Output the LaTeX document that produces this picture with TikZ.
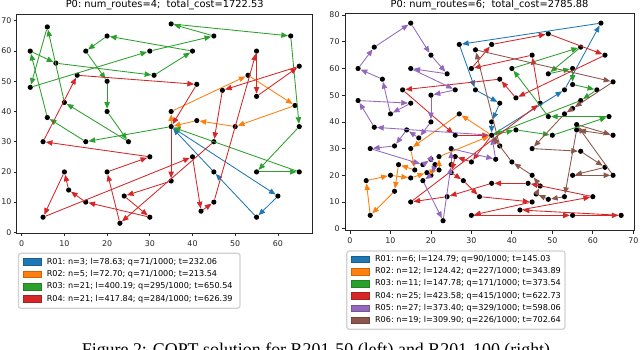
\documentclass[tikz,border=0pt]{standalone}
\usepackage{fontspec}
\setmainfont{DejaVu Sans}
\newfontfamily\capfont{Liberation Serif}
\usetikzlibrary{arrows.meta, positioning}
\definecolor{tabblue}{HTML}{1F77B4}
\definecolor{taborange}{HTML}{FF7F0E}
\definecolor{tabgreen}{HTML}{2CA02C}
\definecolor{tabred}{HTML}{D62728}
\definecolor{tabpurple}{HTML}{9467BD}
\definecolor{tabbrown}{HTML}{8C564B}
% customer coordinates (the first 50 are used on the left)
\newcommand\custlist{1/41/49, 2/35/17, 3/55/45, 4/55/20, 5/15/30, 6/25/30, 7/20/50, 8/10/43,
  9/55/60, 10/30/60, 11/20/65, 12/50/35, 13/30/25, 14/15/10, 15/30/5, 16/10/20, 17/5/30,
  18/20/40, 19/15/60, 20/45/65, 21/45/20, 22/45/10, 23/55/5, 24/65/35, 25/65/20, 26/45/30,
  27/35/40, 28/41/37, 29/64/42, 30/40/60, 31/31/52, 32/35/69, 33/53/52, 34/65/55, 35/63/65,
  36/2/60, 37/20/20, 38/5/5, 39/60/12, 40/40/25, 41/42/7, 42/24/12, 43/23/3, 44/11/14,
  45/6/38, 46/2/48, 47/8/56, 48/13/52, 49/6/68, 50/47/47, 51/49/58, 52/27/43, 53/37/31,
  54/57/29, 55/63/23, 56/53/12, 57/32/12, 58/36/26, 59/21/24, 60/17/34, 61/12/24, 62/24/58,
  63/27/69, 64/15/77, 65/62/77, 66/49/73, 67/67/5, 68/56/39, 69/37/47, 70/37/56, 71/57/68,
  72/47/16, 73/44/17, 74/46/13, 75/49/11, 76/49/42, 77/53/43, 78/61/52, 79/57/48, 80/56/37,
  81/55/54, 82/15/47, 83/14/37, 84/11/31, 85/16/22, 86/4/18, 87/28/18, 88/26/52, 89/26/35,
  90/31/67, 91/15/19, 92/22/22, 93/18/24, 94/26/27, 95/25/24, 96/22/27, 97/25/21, 98/19/21,
  99/20/26, 100/18/18}

\begin{document}
\begin{tikzpicture}[x=1pt, y=1pt, >={Triangle[length=6.6pt,width=5.4pt]},
    dot/.style={circle, fill=black, inner sep=0pt, minimum size=5.2pt},
    route/.style={->, line width=0.85pt},
    frame/.style={draw=black!85, line width=0.8pt},
    tick/.style={black!85, line width=0.8pt},
    ticklabel/.style={font=\fontsize{7.9}{9}\selectfont, inner sep=0pt},
    plottitle/.style={font=\fontsize{9.85}{12}\selectfont, inner sep=0pt, anchor=base},
    legendbox/.style={draw=black!18, line width=1.2pt, rounded corners=2.5pt, fill=white},
    legendkey/.style={minimum width=18pt, minimum height=6.7pt, inner sep=0pt, line width=0.4pt},
    legendtext/.style={font=\fontsize{8.1}{9.5}\selectfont, inner sep=0pt}]
  \useasboundingbox (0,0) rectangle (640,349);
  \clip (0,0) rectangle (640,349);
  \fill[white] (0,0) rectangle (640,349);

  % titles
  \node[plottitle] (ltitle) at (164.7,341.5) {\frenchspacing P0: num\_routes=4;\ \ total\_cost=1722.53};
  \node[plottitle] (rtitle) at (489.6,341.5) {\frenchspacing P0: num\_routes=6;\ \ total\_cost=2785.88};

  % left plot
  \begin{scope}[shift={(21.7,116.7)}, x=4.27pt, y=3.02pt]
    \draw[frame] (-1.15,-0.3) rectangle (68.15,72.3);
    \foreach \tk in {0,10,...,60}
      \draw[tick] (\tk,-0.3) -- ++(0,-3pt) node[ticklabel, anchor=north, yshift=-3.9pt] (lx\tk) {\tk};
    \foreach \tk in {0,10,...,70}
      \draw[tick] (-1.15,\tk) -- ++(-3pt,0) node[ticklabel, anchor=east, xshift=-2pt] (ly\tk) {\tk};
    \node[dot] (L0) at (35,35) {};
    \foreach \i/\x/\y in \custlist {\ifnum\i<51 \node[dot] (L\i) at (\x,\y) {};\fi}
    \foreach \col/\seq in {tabblue/{39,23,21,0},
        taborange/{27,33,29,12,28,0},
        tabgreen/{5,45,36,47,31,30,11,19,7,18,6,8,49,46,10,20,32,35,24,4,25,0},
        tabred/{2,42,15,14,44,16,38,40,41,22,9,3,34,50,26,43,37,13,17,48,1,0}}
      \foreach [remember=\pb as \pa (initially 0)] \pb in \seq
        \draw[route, \col] (L\pa) -- (L\pb);
  \end{scope}

  % right plot
  \begin{scope}[shift={(350,120.3)}, x=4.047pt, y=2.67pt]
    \draw[frame] (-1.25,-0.7) rectangle (70.25,80.7);
    \foreach \tk in {0,10,...,70}
      \draw[tick] (\tk,-0.7) -- ++(0,-3pt) node[ticklabel, anchor=north, yshift=-3.9pt] (rx\tk) {\tk};
    \foreach \tk in {0,10,...,80}
      \draw[tick] (-1.25,\tk) -- ++(-3pt,0) node[ticklabel, anchor=east, xshift=-2pt] (ry\tk) {\tk};
    \node[dot] (R0) at (35,35) {};
    \foreach \i/\x/\y in \custlist {\node[dot] (R\i) at (\x,\y) {};}
    \foreach \col/\seq in {tabblue/{33,65,63,31,69,27,0},
        taborange/{52,5,85,61,44,38,86,16,91,98,92,96,0},
        tabgreen/{28,12,29,76,30,71,51,9,81,78,79,0},
        tabred/{13,94,97,87,57,22,15,23,67,41,39,73,2,42,14,50,20,10,32,66,35,1,70,48,89,0},
        tabpurple/{45,46,82,8,47,36,49,64,11,62,19,88,7,18,60,83,84,17,93,99,59,37,100,43,95,6,58,0},
        tabbrown/{53,90,34,3,77,26,54,55,4,25,68,24,80,56,75,74,72,21,40,0}}
      \foreach [remember=\pb as \pa (initially 0)] \pb in \seq
        \draw[route, \col] (R\pa) -- (R\pb);
  \end{scope}

  % legends
  \draw[legendbox] (18.4,95.7) rectangle (240,40.7);
  \foreach \col/\txt [count=\k] in {tabblue/{R01: n=3; l=78.63; q=71/1000; t=232.06},
      taborange/{R02: n=5; l=72.70; q=71/1000; t=213.54},
      tabgreen/{R03: n=21; l=400.19; q=295/1000; t=650.54},
      tabred/{R04: n=21; l=417.84; q=284/1000; t=626.39}} {
    \node[legendkey, fill=\col, draw=\col!80!black] (lkey\k) at (31.9,{99.3-12.3*\k}) {};
    \node[legendtext, right=5.5pt of lkey\k] (ltxt\k) {\frenchspacing\txt};
  }
  \draw[legendbox] (346.7,98) rectangle (565,19.7);
  \foreach \col/\txt [count=\k] in {tabblue/{R01: n=6; l=124.79; q=90/1000; t=145.03},
      taborange/{R02: n=12; l=124.42; q=227/1000; t=343.89},
      tabgreen/{R03: n=11; l=147.78; q=171/1000; t=373.54},
      tabred/{R04: n=25; l=423.58; q=415/1000; t=622.73},
      tabpurple/{R05: n=27; l=373.40; q=329/1000; t=598.06},
      tabbrown/{R06: n=19; l=309.90; q=226/1000; t=702.64}} {
    \node[legendkey, fill=\col, draw=\col!80!black] (rkey\k) at (360.2,{101.9-12.2*\k}) {};
    \node[legendtext, right=5.5pt of rkey\k] (rtxt\k) {\frenchspacing\txt};
  }

  % caption, cut off at the bottom edge as in the source
  \node[anchor=base, inner sep=0pt] (caption) at (316,-6)
    {\capfont\fontsize{17.9}{20}\selectfont Figure 2: COPT solution for R201-50 (left) and R201-100 (right)};
\end{tikzpicture}
\end{document}
